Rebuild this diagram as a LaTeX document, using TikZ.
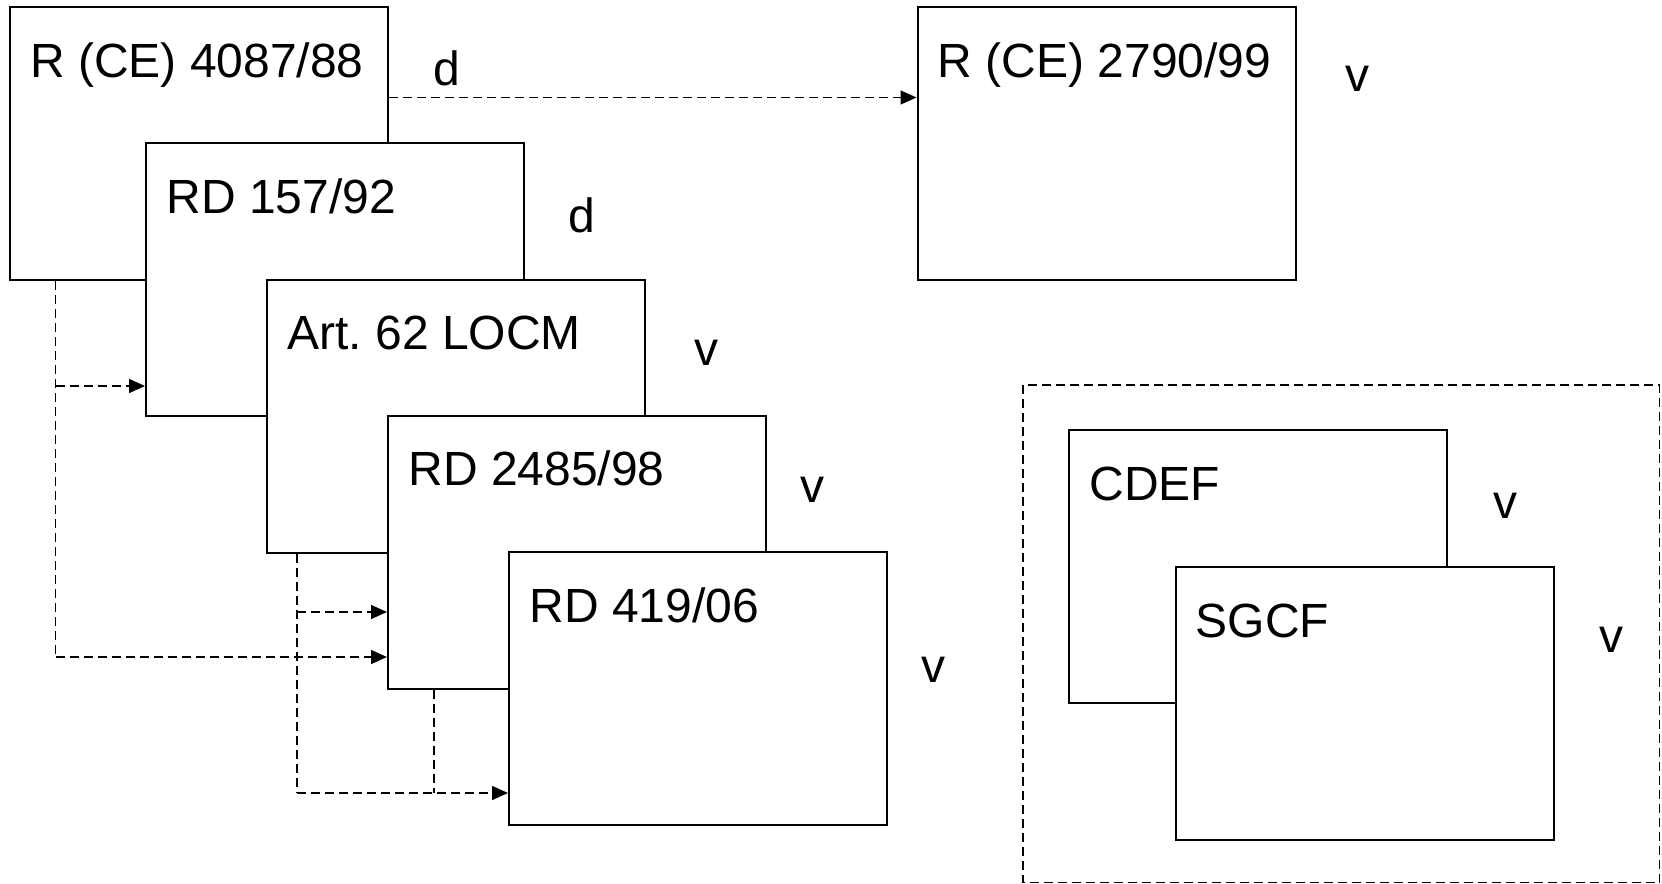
\documentclass[tikz,border=0pt]{standalone}
\usepackage{fontspec}
\setmainfont{Liberation Sans}
\usetikzlibrary{arrows.meta,calc}
\frenchspacing
\begin{document}
\begin{tikzpicture}[x=0.5pt,y=-0.5pt,
  box/.style={draw=black,line width=1pt,fill=white,rectangle,inner sep=0pt,minimum width=189pt,minimum height=136.5pt},
  txt/.style={anchor=base west,inner sep=0pt,font=\fontsize{24}{28}\selectfont},
  lbl/.style={inner sep=0pt,font=\fontsize{24}{28}\selectfont},
  dl/.style={draw=black,line width=0.75pt,dash pattern=on 4.5pt off 2.5pt},
  tip/.style={-{Triangle[length=8pt,width=7pt]}}]
\useasboundingbox (0,0) rectangle (1662,884);
\fill[white] (0,0) rectangle (1662,884);
% group frame
\draw[dl] (1023,385) rectangle (1659.5,882.5);
% boxes
\node[box] (b1) at (198.75,143.7) {};
\node[box] (b2) at (335,279.5) {};
\node[box] (b3) at (456,416) {};
\node[box] (b4) at (577,552) {};
\node[box] (b5) at (698,688.5) {};
\node[box] (b6) at (1106.5,143.7) {};
\node[box] (b7) at (1258,566.5) {};
\node[box] (b8) at (1364.5,703.5) {};
% titles
\node[txt] (t1) at ($(b1.north west)+(21,71)$) {R (CE) 4087/88};
\node[txt] (t2) at ($(b2.north west)+(21,71)$) {RD 157/92};
\node[txt] (t3) at ($(b3.north west)+(21,71)$) {Art.\ 62 LOCM};
\node[txt] (t4) at ($(b4.north west)+(21,71)$) {RD 2485/98};
\node[txt] (t5) at ($(b5.north west)+(21,71)$) {RD 419/06};
\node[txt] (t6) at ($(b6.north west)+(21,71)$) {R (CE) 2790/99};
\node[txt] (t7) at ($(b7.north west)+(21,71)$) {CDEF};
\node[txt] (t8) at ($(b8.north west)+(21,71)$) {SGCF};
% side labels
\node[lbl] (d1) at (447,68) {d};
\node[lbl] (d2) at (582,215) {d};
\node[lbl] (v6) at (1357,79) {v};
\node[lbl] (v3) at (706,353) {v};
\node[lbl] (v4) at (812,490) {v};
\node[lbl] (v5) at (933,670) {v};
\node[lbl] (v7) at (1505,506) {v};
\node[lbl] (v8) at (1611,640) {v};
% connectors
\coordinate (k) at (0,97.5);
\draw[dl,tip] (k -| b1.east) -- (k -| b6.west);
\coordinate (j1a) at (55.7,386);
\coordinate (j1b) at (55.7,657);
\draw[dl] (b1.south -| j1a) -- (j1b);
\draw[dl,tip] (j1a) -- (j1a -| b2.west);
\draw[dl,tip] (j1b) -- (j1b -| b4.west);
\coordinate (j2a) at (297,612);
\coordinate (j2b) at (297,793);
\draw[dl] (b3.south -| j2a) -- (j2b);
\draw[dl,tip] (j2a) -- (j2a -| b4.west);
\draw[dl,tip] (j2b) -- (j2b -| b5.west);
\coordinate (j3) at (434,793);
\draw[dl] (b4.south -| j3) -- (j3);
\end{tikzpicture}
\end{document}
